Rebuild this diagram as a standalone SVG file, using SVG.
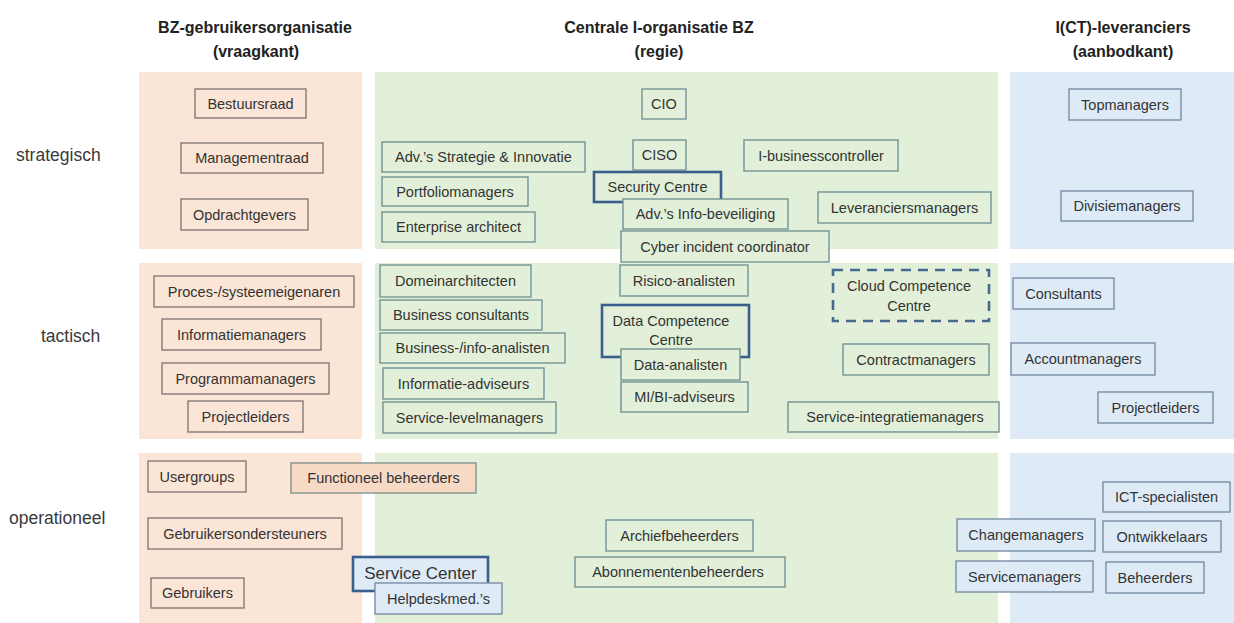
<svg xmlns="http://www.w3.org/2000/svg" width="1234" height="623" viewBox="0 0 1234 623">
<style>
text{font-family:"Liberation Sans",Arial,sans-serif;fill:#333333}
.h{font-size:16px;font-weight:bold;text-anchor:middle;fill:#222222}
.row{font-size:17.5px;fill:#3a3a3a}
.t{font-size:14.5px;text-anchor:middle;dominant-baseline:central}
.big{font-size:17px}
.bgp{fill:#fbe5d6}.bgg{fill:#e2f0d9}.bgb{fill:#deebf7}
rect.np{fill:#fbe5d6;stroke:#857a76;stroke-width:1.4}
rect.nf{fill:#f7dac6;stroke:#83908f;stroke-width:1.4}
rect.ng{fill:#e2f0d9;stroke:#739393;stroke-width:1.4}
rect.nb{fill:#deebf7;stroke:#7a8da5;stroke-width:1.4}
rect.thick{stroke:#3b5f8c;stroke-width:2.6}
rect.dash{fill:none;stroke:#46698f;stroke-width:2.6;stroke-dasharray:10 7}
</style>
<rect width="1234" height="623" fill="#ffffff"/>
<g id="backgrounds">
<rect class="bgp" x="139" y="72" width="223" height="177"/>
<rect class="bgp" x="139" y="263" width="223" height="176"/>
<rect class="bgp" x="139" y="453" width="223" height="170"/>
<rect class="bgg" x="375" y="72" width="623" height="177"/>
<rect class="bgg" x="375" y="263" width="623" height="176"/>
<rect class="bgg" x="375" y="453" width="623" height="170"/>
<rect class="bgb" x="1010" y="72" width="224" height="177"/>
<rect class="bgb" x="1010" y="263" width="224" height="176"/>
<rect class="bgb" x="1010" y="453" width="224" height="170"/>
</g>
<g id="headers">
<text class="h" x="255" y="33">BZ-gebruikersorganisatie</text>
<text class="h" x="256" y="57">(vraagkant)</text>
<text class="h" x="659" y="33">Centrale I-organisatie BZ</text>
<text class="h" x="659" y="57">(regie)</text>
<text class="h" x="1123" y="33">I(CT)-leveranciers</text>
<text class="h" x="1123" y="57">(aanbodkant)</text>
<text class="row" x="16" y="161">strategisch</text>
<text class="row" x="41" y="342">tactisch</text>
<text class="row" x="9" y="524">operationeel</text>
</g>
<g id="connectors"/>
<g id="nodes">
<g id="n-bestuursraad"><rect class="np" x="195" y="89" width="111" height="29"/><text class="t" x="250.5" y="103.5">Bestuursraad</text></g>
<g id="n-managementraad"><rect class="np" x="181" y="143" width="142" height="30"/><text class="t" x="252" y="158">Managementraad</text></g>
<g id="n-opdrachtgevers"><rect class="np" x="181" y="199" width="127" height="31"/><text class="t" x="244.5" y="214.5">Opdrachtgevers</text></g>

<g id="n-cio"><rect class="ng" x="642" y="89" width="44" height="30"/><text class="t" x="664" y="104">CIO</text></g>
<g id="n-adv-strategie"><rect class="ng" x="382" y="142" width="203" height="30"/><text class="t" x="483.5" y="157">Adv.’s Strategie &amp; Innovatie</text></g>
<g id="n-ciso"><rect class="ng" x="633" y="140" width="53" height="30"/><text class="t" x="659.5" y="155">CISO</text></g>
<g id="n-ibc"><rect class="ng" x="744" y="140" width="154" height="31"/><text class="t" x="821" y="155.5">I-businesscontroller</text></g>
<g id="n-portfolio"><rect class="ng" x="382" y="177" width="146" height="29"/><text class="t" x="455" y="191.5">Portfoliomanagers</text></g>
<g id="n-enterprise"><rect class="ng" x="382" y="212" width="153" height="30"/><text class="t" x="458.5" y="227">Enterprise architect</text></g>
<g id="n-leveranciers"><rect class="ng" x="818" y="192" width="173" height="31"/><text class="t" x="904.5" y="207.5">Leveranciersmanagers</text></g>
<g id="n-security"><rect class="ng thick" x="594" y="172" width="127" height="30"/><text class="t" x="657.5" y="187">Security Centre</text></g>
<g id="n-adv-info"><rect class="ng" x="623" y="199" width="165" height="30"/><text class="t" x="705.5" y="214">Adv.’s Info-beveiliging</text></g>
<g id="n-cyber"><rect class="ng" x="621" y="231" width="208" height="31"/><text class="t" x="725" y="246.5">Cyber incident coordinator</text></g>

<g id="n-topmanagers"><rect class="nb" x="1069" y="89" width="112" height="31"/><text class="t" x="1125" y="104.5">Topmanagers</text></g>
<g id="n-divisie"><rect class="nb" x="1061" y="191" width="132" height="30"/><text class="t" x="1127" y="206">Divisiemanagers</text></g>

<g id="n-proces"><rect class="np" x="154" y="276" width="200" height="31"/><text class="t" x="254" y="291.5">Proces-/systeemeigenaren</text></g>
<g id="n-infomanagers"><rect class="np" x="162" y="319" width="159" height="31"/><text class="t" x="241.5" y="334.5">Informatiemanagers</text></g>
<g id="n-programma"><rect class="np" x="162" y="363" width="167" height="31"/><text class="t" x="245.5" y="378.5">Programmamanagers</text></g>
<g id="n-projectleiders-l"><rect class="np" x="188" y="401" width="115" height="31"/><text class="t" x="245.5" y="416.5">Projectleiders</text></g>

<g id="n-domein"><rect class="ng" x="380" y="265" width="151" height="32"/><text class="t" x="455.5" y="281">Domeinarchitecten</text></g>
<g id="n-business"><rect class="ng" x="380" y="300" width="162" height="30"/><text class="t" x="461" y="315">Business consultants</text></g>
<g id="n-analisten"><rect class="ng" x="380" y="333" width="185" height="30"/><text class="t" x="472.5" y="348">Business-/info-analisten</text></g>
<g id="n-adviseurs"><rect class="ng" x="383" y="368" width="161" height="31"/><text class="t" x="463.5" y="383.5">Informatie-adviseurs</text></g>
<g id="n-slm"><rect class="ng" x="383" y="402" width="173" height="31"/><text class="t" x="469.5" y="417.5">Service-levelmanagers</text></g>
<g id="n-risico"><rect class="ng" x="620" y="265" width="128" height="31"/><text class="t" x="684" y="280.5">Risico-analisten</text></g>
<g id="n-dcc"><rect class="ng thick" x="602" y="305" width="147" height="52"/><text class="t" x="671" y="321">Data Competence</text><text class="t" x="671" y="340">Centre</text></g>
<g id="n-data-analisten"><rect class="ng" x="621" y="349" width="119" height="31"/><text class="t" x="680.5" y="364.5">Data-analisten</text></g>
<g id="n-mibi"><rect class="ng" x="621" y="382" width="127" height="30"/><text class="t" x="684.5" y="397">MI/BI-adviseurs</text></g>
<g id="n-ccc"><rect class="dash" x="833" y="270" width="156" height="51"/><text class="t" x="909" y="286">Cloud Competence</text><text class="t" x="909" y="306">Centre</text></g>
<g id="n-contract"><rect class="ng" x="843" y="344" width="146" height="31"/><text class="t" x="916" y="359.5">Contractmanagers</text></g>
<g id="n-sim"><rect class="ng" x="788" y="402" width="211" height="30"/><text class="t" x="895" y="417">Service-integratiemanagers</text></g>

<g id="n-consultants"><rect class="nb" x="1013" y="278" width="101" height="31"/><text class="t" x="1063.5" y="293.5">Consultants</text></g>
<g id="n-account"><rect class="nb" x="1011" y="343" width="144" height="32"/><text class="t" x="1083" y="359">Accountmanagers</text></g>
<g id="n-projectleiders-r"><rect class="nb" x="1098" y="392" width="115" height="31"/><text class="t" x="1155.5" y="407.5">Projectleiders</text></g>

<g id="n-usergroups"><rect class="np" x="148" y="461" width="98" height="31"/><text class="t" x="197" y="476.5">Usergroups</text></g>
<g id="n-functioneel"><rect class="nf" x="291" y="463" width="185" height="30"/><text class="t" x="383.5" y="478">Functioneel beheerders</text></g>
<g id="n-ondersteuners"><rect class="np" x="148" y="518" width="194" height="31"/><text class="t" x="245" y="533.5">Gebruikersondersteuners</text></g>
<g id="n-gebruikers"><rect class="np" x="151" y="578" width="93" height="30"/><text class="t" x="197.5" y="593">Gebruikers</text></g>

<g id="n-servicecenter"><rect class="nb thick" x="353" y="557" width="135" height="34"/><text class="t big" x="420.5" y="573">Service Center</text></g>
<g id="n-helpdesk"><rect class="nb" x="375" y="583" width="127" height="31"/><text class="t" x="438.5" y="598.5">Helpdeskmed.’s</text></g>
<g id="n-archief"><rect class="ng" x="606" y="520" width="147" height="31"/><text class="t" x="679.5" y="535.5">Archiefbeheerders</text></g>
<g id="n-abonnementen"><rect class="ng" x="575" y="557" width="210" height="30"/><text class="t" x="678" y="572">Abonnementenbeheerders</text></g>

<g id="n-ict"><rect class="nb" x="1103" y="482" width="127" height="30"/><text class="t" x="1166.5" y="497">ICT-specialisten</text></g>
<g id="n-change"><rect class="nb" x="957" y="519" width="138" height="32"/><text class="t" x="1026" y="535">Changemanagers</text></g>
<g id="n-ontwikkelaars"><rect class="nb" x="1103" y="521" width="118" height="31"/><text class="t" x="1162" y="536.5">Ontwikkelaars</text></g>
<g id="n-servicemanagers"><rect class="nb" x="956" y="561" width="137" height="31"/><text class="t" x="1024.5" y="576.5">Servicemanagers</text></g>
<g id="n-beheerders"><rect class="nb" x="1106" y="562" width="98" height="31"/><text class="t" x="1155" y="577.5">Beheerders</text></g>
</g>
</svg>
